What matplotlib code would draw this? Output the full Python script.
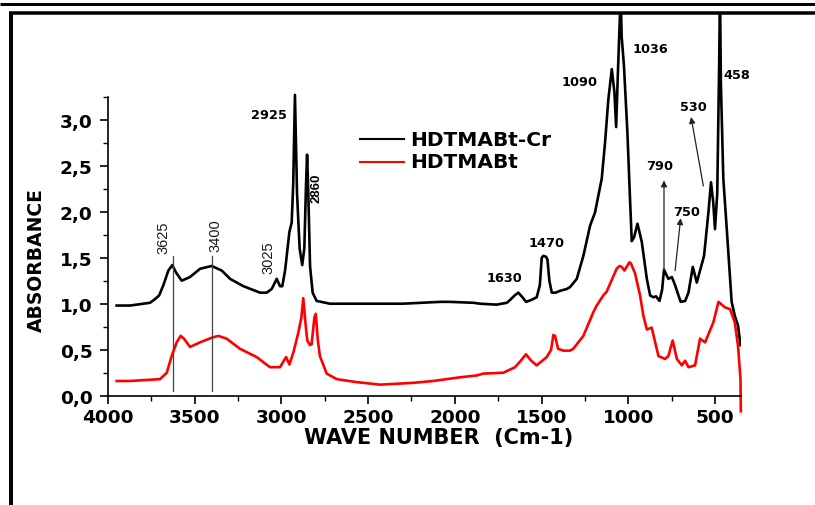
import numpy as np
import matplotlib
matplotlib.use("Agg")
import matplotlib.pyplot as plt
from matplotlib.lines import Line2D
from matplotlib.ticker import FixedLocator, FuncFormatter

# FTIR spectra: wavenumber (cm-1) and absorbance
cr_wavenumber = [3950, 3873, 3758, 3729, 3705, 3681, 3652, 3629, 3608, 3575, 3527, 3469,
                 3402, 3344, 3296, 3219, 3123, 3085, 3056, 3027, 3008, 2995, 2979, 2954,
                 2941, 2932, 2922, 2910, 2895, 2880, 2868, 2858, 2852, 2845, 2835, 2820,
                 2797, 2720, 2600, 2470, 2300, 2085, 2028, 1893, 1855, 1759, 1700, 1682,
                 1655, 1634, 1610, 1590, 1560, 1528, 1510, 1499, 1490, 1474, 1466, 1455,
                 1441, 1420, 1393, 1355, 1336, 1297, 1259, 1220, 1192, 1153, 1134, 1115,
                 1095, 1080, 1070, 1060, 1044, 1038, 1025, 1005, 990, 980, 967, 947, 922,
                 893, 874, 855, 840, 820, 805, 794, 769, 749, 738, 730, 698, 672, 653, 628,
                 605, 563, 538, 523, 510, 500, 487, 476, 471, 466, 452, 432, 404, 386, 367,
                 353]
cr_absorbance = [0.98, 0.98, 1.01, 1.05, 1.09, 1.20, 1.36, 1.42, 1.34, 1.25, 1.29, 1.38,
                 1.41, 1.36, 1.27, 1.19, 1.12, 1.12, 1.16, 1.27, 1.19, 1.19, 1.36, 1.78,
                 1.88, 2.30, 3.27, 2.20, 1.60, 1.42, 1.60, 2.30, 2.62, 2.20, 1.41, 1.12,
                 1.03, 1.00, 1.00, 1.00, 1.00, 1.02, 1.02, 1.01, 1.00, 0.99, 1.01, 1.04,
                 1.09, 1.12, 1.07, 1.02, 1.04, 1.07, 1.20, 1.50, 1.52, 1.51, 1.48, 1.25,
                 1.12, 1.12, 1.14, 1.16, 1.18, 1.27, 1.52, 1.85, 1.99, 2.36, 2.75, 3.22,
                 3.55, 3.30, 2.92, 3.50, 4.35, 3.90, 3.59, 2.86, 2.14, 1.68, 1.72, 1.87, 1.67,
                 1.27, 1.09, 1.07, 1.08, 1.03, 1.15, 1.37, 1.27, 1.29, 1.24, 1.20, 1.02, 1.03,
                 1.12, 1.40, 1.23, 1.52, 1.99, 2.32, 2.10, 1.81, 2.20, 3.60, 4.40, 3.39, 2.36,
                 1.81, 1.02, 0.87, 0.76, 0.55]

base_wavenumber = [3950, 3873, 3700, 3661, 3633, 3604, 3581, 3562, 3527, 3469, 3402, 3364,
                   3316, 3239, 3143, 3066, 3008, 2973, 2954, 2931, 2902, 2885, 2874, 2862,
                   2851, 2835, 2826, 2810, 2802, 2790, 2778, 2739, 2681, 2576, 2431, 2239,
                   2124, 2009, 1970, 1874, 1836, 1720, 1653, 1620, 1590, 1560, 1528, 1470,
                   1445, 1432, 1422, 1405, 1374, 1336, 1317, 1259, 1201, 1182, 1144, 1125,
                   1067, 1050, 1038, 1022, 994, 985, 961, 932, 913, 893, 865, 826, 788, 769,
                   744, 720, 691, 672, 653, 615, 586, 557, 509, 480, 461, 442, 413, 386, 367,
                   353, 351]
base_absorbance = [0.16, 0.16, 0.18, 0.25, 0.43, 0.58, 0.65, 0.62, 0.53, 0.58, 0.63, 0.65,
                   0.62, 0.51, 0.42, 0.31, 0.31, 0.42, 0.34, 0.47, 0.69, 0.85, 1.06, 0.80,
                   0.60, 0.55, 0.56, 0.85, 0.89, 0.60, 0.43, 0.24, 0.18, 0.15, 0.12, 0.14,
                   0.16, 0.19, 0.20, 0.22, 0.24, 0.25, 0.31, 0.38, 0.45, 0.38, 0.33, 0.42,
                   0.50, 0.66, 0.65, 0.51, 0.49, 0.49, 0.51, 0.65, 0.91, 0.98, 1.09, 1.13,
                   1.38, 1.41, 1.40, 1.36, 1.45, 1.44, 1.33, 1.09, 0.87, 0.72, 0.74, 0.43, 0.40,
                   0.43, 0.60, 0.40, 0.33, 0.38, 0.31, 0.33, 0.62, 0.58, 0.80, 1.02, 0.99, 0.96,
                   0.94, 0.80, 0.54, 0.18, -0.17]

series_names = ["HDTMABt-Cr", "HDTMABt"]

# peak labels: (text, wavenumber, absorbance)
bold_labels = [("2925", 3072, 3.06), ("1036", 874, 3.77), ("1090", 1278, 3.42),
               ("458", 373, 3.49), ("530", 626, 3.14), ("790", 817, 2.50),
               ("750", 663, 2.00), ("1630", 1716, 1.29), ("1470", 1474, 1.67)]
rotated_labels = [("3625", 3681, 1.73), ("3400", 3383, 1.75), ("3025", 3077, 1.51)]
marker_lines = [3625, 3400]

x_ticks = [4000, 3500, 3000, 2500, 2000, 1500, 1000, 500]
y_ticks = [0.0, 0.5, 1.0, 1.5, 2.0, 2.5, 3.0]

W, H = 815, 506
fig = plt.figure(figsize=(W / 100, H / 100), dpi=100)
plt.rcParams['font.family'] = ['DejaVu Sans']
narrow = ['Liberation Sans', 'DejaVu Sans']

ax_left, ax_right, ax_bottom, ax_top = 108, 741, 396.7, 14
ax = fig.add_axes([ax_left / W, 1 - ax_bottom / H, (ax_right - ax_left) / W,
                   (ax_bottom - ax_top) / H])
ax.set_xlim(4000, 350)
ax.set_ylim(0, 4.16)

ax.plot(cr_wavenumber, cr_absorbance, color='black', lw=1.9, solid_joinstyle='round')
ax.plot(base_wavenumber, base_absorbance, color='#ff0000', lw=1.9,
        solid_joinstyle='round', clip_on=False)

# vertical guides for the O-H bands
for wn in marker_lines:
    ax.plot([wn, wn], [0.05, 1.52], color='#444444', lw=0.9)

for text, x, y in bold_labels:
    ax.text(x, y, text, ha='center', va='center', fontsize=9.3, fontweight='bold')
for text, x, y in rotated_labels:
    ax.text(x, y, text, ha='center', va='center', fontsize=10.5, rotation=90,
            family=narrow, color='#1a1a1a')
ax.text(2800, 2.27, "2860", ha='center', va='center', fontsize=9.5, rotation=90,
        fontweight='bold', family=narrow)

arrow_style = dict(arrowstyle='-|>', color='#222222', lw=0.9, mutation_scale=9,
                   shrinkA=0, shrinkB=0)
ax.annotate('', xy=(794, 2.34), xytext=(794, 1.36), arrowprops=arrow_style)
ax.annotate('', xy=(698, 1.93), xytext=(730, 1.36), arrowprops=arrow_style)
ax.annotate('', xy=(638, 3.03), xytext=(567, 2.28), arrowprops=arrow_style)

# legend drawn as short sample lines with labels
leg_y = [(396.7 - 140) / (396.7 - 14), (396.7 - 162.7) / (396.7 - 14)]
lx0 = (360 - ax_left) / (ax_right - ax_left)
lx1 = (404 - ax_left) / (ax_right - ax_left)
ltx = (410 - ax_left) / (ax_right - ax_left)
for name, color, yy in zip(series_names, ['black', '#ff0000'], leg_y):
    ax.plot([lx0, lx1], [yy, yy], color=color, lw=1.5, transform=ax.transAxes)
    ax.text(ltx, yy, name, transform=ax.transAxes, ha='left', va='center',
            fontsize=14.5, fontweight='bold')

for side in ['top', 'right']:
    ax.spines[side].set_visible(False)
ax.spines['left'].set_bounds(0, 3.25)
for side in ['left', 'bottom']:
    ax.spines[side].set_linewidth(1.2)

ax.xaxis.set_major_locator(FixedLocator(x_ticks))
ax.xaxis.set_minor_locator(FixedLocator([3750, 3250, 2750, 2250, 1750, 1250, 750]))
ax.yaxis.set_major_locator(FixedLocator(y_ticks))
ax.yaxis.set_minor_locator(FixedLocator([0.25, 0.75, 1.25, 1.75, 2.25, 2.75, 3.25]))
ax.xaxis.set_major_formatter(FuncFormatter(lambda v, p: f"{v:.0f}"))
ax.yaxis.set_major_formatter(FuncFormatter(lambda v, p: f"{v:.1f}".replace('.', ',')))
ax.tick_params(axis='both', which='major', direction='out', length=6, width=1.2,
               labelsize=13.3)
ax.tick_params(axis='both', which='minor', direction='out', length=3.5, width=1.0)
ax.tick_params(axis='y', which='major', pad=5)
ax.tick_params(axis='x', which='major', pad=3)
for lab in ax.get_xticklabels() + ax.get_yticklabels():
    lab.set_fontweight('bold')

ax.set_xlabel("WAVE NUMBER  (Cm-1)", fontsize=15, fontweight='bold')
ax.set_ylabel("ABSORBANCE", fontsize=13.5, fontweight='bold')
ax.xaxis.label.set_va('center')
ax.yaxis.label.set_va('center')
ax.xaxis.set_label_coords((438.5 - ax_left) / (ax_right - ax_left),
                          (ax_bottom - 438) / (ax_bottom - ax_top))
ax.yaxis.set_label_coords((36.7 - ax_left) / (ax_right - ax_left),
                          (ax_bottom - 260) / (ax_bottom - ax_top))

# page frame: two rules at the top and one on the left edge
def px_line(x0, y0, x1, y1, lw_px):
    fig.add_artist(Line2D([x0 / W, x1 / W], [1 - y0 / H, 1 - y1 / H],
                          transform=fig.transFigure, color='black',
                          lw=lw_px * 0.72, solid_capstyle='butt'))

px_line(0, 4.5, W, 4.5, 3)
px_line(9, 14, W, 14, 3.5)
px_line(11, 12.5, 11, H, 4)

fig.savefig("out.png", dpi=100)
